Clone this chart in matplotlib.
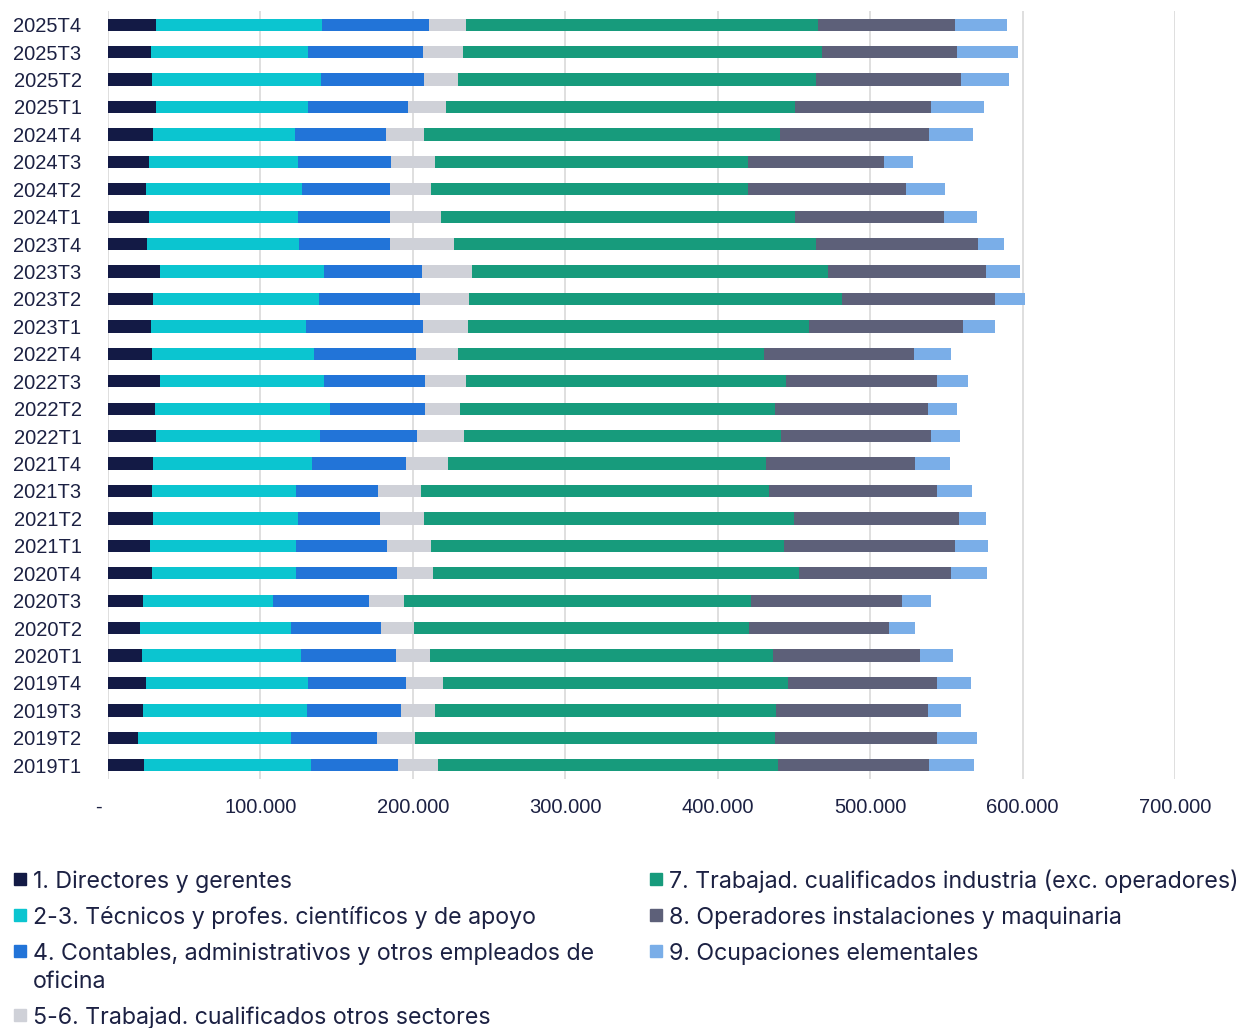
import numpy as np
import matplotlib.pyplot as plt
from matplotlib.ticker import FuncFormatter
from matplotlib.patches import Rectangle

plt.rcParams['font.family'] = ['Liberation Sans', 'DejaVu Sans']

# quarters, bottom to top
quarters = ['2019T1', '2019T2', '2019T3', '2019T4',
            '2020T1', '2020T2', '2020T3', '2020T4',
            '2021T1', '2021T2', '2021T3', '2021T4',
            '2022T1', '2022T2', '2022T3', '2022T4',
            '2023T1', '2023T2', '2023T3', '2023T4',
            '2024T1', '2024T2', '2024T3', '2024T4',
            '2025T1', '2025T2', '2025T3', '2025T4']

# employed persons by occupation group
directores = [23600, 19700, 23200, 24900, 22100, 21000, 23200, 28700,
              27600, 29500, 28700, 29500, 31500, 31100, 34100, 28900,
              28200, 29500, 34100, 25400, 26900, 24900, 26900, 29800,
              31500, 28700, 28200, 31500]
tecnicos = [109400, 100600, 107200, 106600, 104800, 99300, 84900, 94900,
            95600, 95000, 94500, 104200, 107400, 114400, 107500, 106100,
            102000, 108800, 107500, 99800, 97600, 102200, 97600, 92700,
            99600, 110900, 103300, 108800]
contables = [57400, 56300, 61900, 64300, 62100, 58700, 63200, 66100,
             59900, 54000, 54000, 61900, 63500, 62400, 66500, 67200,
             76600, 66100, 64300, 59900, 60200, 57600, 61300, 60000,
             65800, 67400, 75300, 70000]
otros_sect = [26400, 24700, 22300, 24100, 22400, 21900, 22600, 23200,
              28900, 28900, 28300, 27600, 31100, 22700, 26700, 27500,
              29500, 32300, 32600, 41800, 33900, 26900, 28800, 24900,
              24700, 22500, 26000, 24700]
industria = [222800, 236200, 223400, 226400, 224700, 219700, 227800, 240300,
             231600, 242900, 228200, 208600, 208000, 207100, 210100, 200800,
             223900, 244900, 234000, 237600, 232000, 208500, 205500, 233300,
             229200, 235200, 235700, 231100]
operadores = [98900, 106600, 99700, 97800, 96800, 91500, 98900, 100000,
              111800, 108300, 109900, 97400, 98100, 100000, 99200, 98400,
              100800, 100200, 103200, 106400, 98100, 103200, 88700, 98100,
              89300, 95200, 88700, 89300]
elementales = [29400, 26300, 22200, 22000, 21700, 17100, 19500, 23300,
               21600, 17400, 23500, 23200, 19300, 19000, 20100, 24300,
               20600, 20100, 22700, 17100, 21400, 25700, 19300, 28600,
               34800, 31000, 39600, 34700]

series = [directores, tecnicos, contables, otros_sect, industria, operadores, elementales]
labels = ['1. Directores y gerentes',
          '2-3. Técnicos y profes. científicos y de apoyo',
          '4. Contables, administrativos y otros empleados de\noficina',
          '5-6. Trabajad. cualificados otros sectores',
          '7. Trabajad. cualificados industria (exc. operadores)',
          '8. Operadores instalaciones y maquinaria',
          '9. Ocupaciones elementales']
colors = ['#131a45', '#0bc5d0', '#2274d8', '#cfd1d8', '#179b7c', '#5d6079', '#7aaee8']
text_color = '#1c2143'

W, H = 1244, 1028
fig = plt.figure(figsize=(W / 100, H / 100), dpi=100)
ax = fig.add_axes([108 / W, 1 - 779 / H, (1175 - 108) / W, (779 - 11) / H])

y = np.arange(len(quarters))
left = np.zeros(len(quarters))
for vals, col in zip(series, colors):
    ax.barh(y, vals, left=left, height=0.45, color=col, zorder=3)
    left += np.array(vals)

ax.set_ylim(-0.5, len(quarters) - 0.5)
ax.set_xlim(0, 700000)
ax.set_xticks(np.arange(0, 700001, 100000))
ax.xaxis.set_major_formatter(FuncFormatter(
    lambda v, p: '-   ' if v == 0 else f'{v:,.0f}'.replace(',', '.')))
ax.set_yticks(y)
ax.set_yticklabels(quarters)
ax.tick_params(axis='both', length=0, labelsize=14.5, labelcolor=text_color)
ax.tick_params(axis='x', pad=14)
ax.tick_params(axis='y', pad=19)
ax.grid(axis='x', color='#dcdcdc', linewidth=1.3, zorder=0)
for s in ax.spines.values():
    s.set_visible(False)

# legend drawn by hand in two columns (x, first-line baseline in pixels)
legend_pos = [(14, 888), (14, 924), (14, 960), (14, 1024),
              (650, 888), (650, 924), (650, 960)]
for (px, py), lab, col in zip(legend_pos, labels, colors):
    fig.add_artist(Rectangle((px / W, 1 - (py - 3) / H), 12 / W, 12 / H,
                             transform=fig.transFigure, color=col))
    extra = lab.count('\n') * 28
    fig.text((px + 19) / W, 1 - (py + extra) / H, lab, fontsize=16.7,
             family=['Inter', 'DejaVu Sans'], color=text_color,
             va='baseline', ha='left', linespacing=1.37)

fig.savefig('out.png', dpi=100)
